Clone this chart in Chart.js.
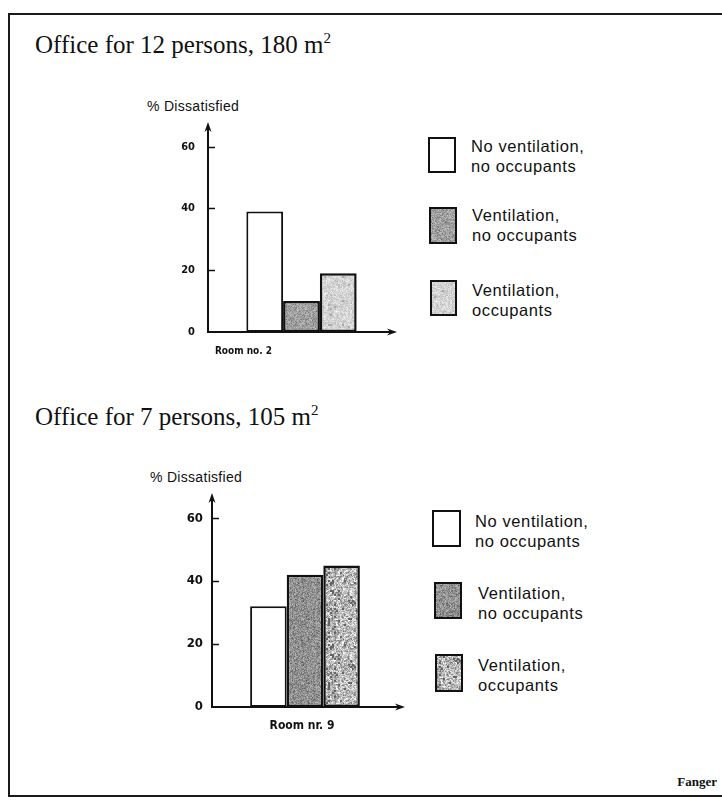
<!DOCTYPE html>
<html><head><meta charset="utf-8">
<script src="https://cdn.jsdelivr.net/npm/chart.js@4/dist/chart.umd.min.js"></script>
<style>
html,body{margin:0;padding:0;background:#fff;}
body{width:722px;height:803px;position:relative;overflow:hidden;color:#111;}
.line{position:absolute;background:#1a1a1a;}
.title{position:absolute;left:35px;font-family:"Liberation Serif","Times New Roman",serif;font-size:25px;line-height:30px;white-space:nowrap;}
.title sup{font-size:15px;line-height:0;vertical-align:10px;}
.ds{position:absolute;font-family:"Liberation Sans",Arial,sans-serif;font-size:14px;line-height:16px;white-space:nowrap;letter-spacing:0.3px;}
.legbox{position:absolute;border:2.5px solid #111;box-sizing:border-box;background:#fff;}
.legtxt{position:absolute;font-family:"Liberation Sans",Arial,sans-serif;font-size:16.5px;line-height:20px;white-space:nowrap;letter-spacing:0.6px;}
.wrap{position:absolute;}
.fanger{position:absolute;right:5px;top:774px;font-family:"Liberation Serif",serif;font-weight:bold;font-size:13px;}
</style>
</head>
<body>
<div class="line" style="left:8px;top:13px;width:714px;height:2px;"></div>
<div class="line" style="left:8px;top:13px;width:2px;height:784px;"></div>
<div class="line" style="left:8px;top:795px;width:714px;height:2px;"></div>

<div class="title" style="top:30px;">Office for 12 persons, 180 m<sup>2</sup></div>
<div class="title" style="top:402px;">Office for 7 persons, 105 m<sup>2</sup></div>

<div class="ds" style="left:147px;top:98px;">% Dissatisfied</div>
<div class="ds" style="left:150px;top:469px;">% Dissatisfied</div>

<div class="wrap" style="left:140px;top:100px;"><canvas id="c1" width="270" height="270"></canvas></div>
<div class="wrap" style="left:140px;top:470px;"><canvas id="c2" width="280" height="275"></canvas></div>

<div id="leg1"></div>
<div id="leg2"></div>

<div class="fanger">Fanger</div>

<script>
// ---- data ----
const categoriesTop = ['Room no. 2'];
const categoriesBottom = ['Room nr. 9'];
const seriesLabels = [
  ['No ventilation,', 'no occupants'],
  ['Ventilation,', 'no occupants'],
  ['Ventilation,', 'occupants']
];
const room2Values = [39, 10, 19];
const room9Values = [32, 42, 45];
const yTickValues = [0, 20, 40, 60];

// ---- textures (styling only) ----
function hsh(x, y, s) {
  let n = (Math.imul(x, 374761393) + Math.imul(y, 668265263) + Math.imul(s, 1442695041)) | 0;
  n = Math.imul(n ^ (n >>> 13), 1274126177);
  n = n ^ (n >>> 16);
  return (n >>> 0) / 4294967295;
}
function texture(base, amp, seed, speck, speckVal, block) {
  const c = document.createElement('canvas');
  c.width = 64; c.height = 64;
  const g = c.getContext('2d');
  const im = g.createImageData(64, 64);
  for (let y = 0; y < 64; y++) for (let x = 0; x < 64; x++) {
    const bx = Math.floor(x / block), by = Math.floor(y / block);
    let v = base + (hsh(x, y, seed) - 0.5) * amp + (hsh(bx, by, seed + 7) - 0.5) * amp * 0.6;
    if (hsh(bx, by, seed + 13) < speck) v = speckVal;
    v = Math.max(0, Math.min(255, v));
    const i = (y * 64 + x) * 4;
    im.data[i] = im.data[i + 1] = im.data[i + 2] = v; im.data[i + 3] = 255;
  }
  g.putImageData(im, 0, 0);
  return c;
}
const tmp = document.createElement('canvas').getContext('2d');
const texTop = [null, texture(160, 55, 3, 0.02, 110, 1), texture(212, 40, 5, 0.02, 170, 2)];
const texBot = [null, texture(145, 60, 9, 0.04, 95, 1), texture(185, 100, 11, 0.10, 100, 2)];

function fills(tex) { return tex.map(t => t ? tmp.createPattern(t, 'repeat') : '#ffffff'); }

// ---- axes plugin ----
const axesPlugin = {
  id: 'axesArrows',
  afterDraw(chart, args, o) {
    const ctx = chart.ctx, ys = chart.scales.y, ca = chart.chartArea;
    const x0 = ca.left, y0 = ys.getPixelForValue(0), yTop = ys.getPixelForValue(ys.max);
    const xEnd = ca.right + o.ext;
    ctx.save();
    ctx.strokeStyle = '#111'; ctx.fillStyle = '#111'; ctx.lineWidth = 2;
    ctx.beginPath();
    ctx.moveTo(x0, y0); ctx.lineTo(x0, yTop + 4);
    ctx.moveTo(x0 - 1, y0); ctx.lineTo(xEnd - 4, y0);
    ctx.stroke();
    ctx.beginPath();
    ctx.moveTo(x0, yTop); ctx.lineTo(x0 - 3.5, yTop + 10); ctx.lineTo(x0, yTop + 7); ctx.lineTo(x0 + 3.5, yTop + 10); ctx.closePath();
    ctx.fill();
    ctx.beginPath();
    ctx.moveTo(xEnd, y0); ctx.lineTo(xEnd - 10, y0 - 3.5); ctx.lineTo(xEnd - 7, y0); ctx.lineTo(xEnd - 10, y0 + 3.5); ctx.closePath();
    ctx.fill();
    ctx.lineWidth = 1.5;
    ctx.beginPath();
    yTickValues.filter(v => v > 0).forEach(v => {
      const y = Math.round(ys.getPixelForValue(v)) + 0.5;
      ctx.moveTo(x0, y); ctx.lineTo(x0 + 7, y);
    });
    ctx.stroke();
    ctx.restore();
  }
};

function makeChart(id, cats, values, tex, cfg) {
  const bg = fills(tex);
  return new Chart(document.getElementById(id), {
    type: 'bar',
    data: {
      labels: cats,
      datasets: seriesLabels.map((lab, i) => ({
        label: lab.join(' '),
        data: [values[i]],
        backgroundColor: bg[i],
        borderColor: '#111',
        borderWidth: i === 0 ? 2 : 2.5,
        borderSkipped: false,
        categoryPercentage: cfg.cat,
        barPercentage: 1
      }))
    },
    options: {
      responsive: false, animation: false, devicePixelRatio: 1,
      layout: { padding: { top: cfg.padTop, right: cfg.padRight, left: 0, bottom: 0 } },
      plugins: { legend: { display: false }, tooltip: { enabled: false }, axesArrows: { ext: cfg.ext } },
      scales: {
        x: {
          grid: { display: false, drawTicks: false }, border: { display: false },
          ticks: { color: '#111', padding: cfg.xPad, labelOffset: cfg.labelOffset,
                   font: { family: '"Liberation Sans Narrow","DejaVu Sans Condensed","Liberation Sans",sans-serif', size: cfg.xFont, weight: 'bold' } },
          afterFit(s) { s.height = cfg.xH; }
        },
        y: {
          min: 0, max: 68,
          afterBuildTicks(s) { s.ticks = yTickValues.map(v => ({ value: v })); },
          grid: { display: false, drawTicks: false }, border: { display: false },
          ticks: { color: '#111', padding: cfg.yPad,
                   font: { family: '"Liberation Sans Narrow","DejaVu Sans Condensed","Liberation Sans",sans-serif', size: cfg.yFont, weight: 'bold' } },
          afterFit(s) { s.width = cfg.yW; }
        }
      }
    },
    plugins: [axesPlugin]
  });
}

makeChart('c1', categoriesTop, room2Values, texTop,
  { cat: 0.59, padTop: 22, padRight: 15, ext: 2, yW: 68, xH: 38, yPad: 13, xPad: 13, labelOffset: -58, xFont: 10, yFont: 11 });
makeChart('c2', categoriesBottom, room9Values, texBot,
  { cat: 0.59, padTop: 23, padRight: 22, ext: 7, yW: 72, xH: 38, yPad: 9, xPad: 12, labelOffset: -3, xFont: 12, yFont: 13 });

// ---- legends (HTML) ----
function legend(el, boxes, texts, tex) {
  const host = document.getElementById(el);
  seriesLabels.forEach((lines, i) => {
    const b = document.createElement('div');
    b.className = 'legbox';
    const [x, y, w, h] = boxes[i];
    b.style.cssText = `left:${x}px;top:${y}px;width:${w}px;height:${h}px;` +
      (tex[i] ? `background-image:url(${tex[i].toDataURL()});` : '') + (i === 0 ? 'border-width:2px;' : '');
    host.appendChild(b);
    const t = document.createElement('div');
    t.className = 'legtxt';
    t.style.left = texts[i][0] + 'px'; t.style.top = texts[i][1] + 'px';
    t.innerHTML = lines.join('<br>');
    host.appendChild(t);
  });
}
legend('leg1', [[428, 137, 28, 36], [429, 207, 28, 37], [430, 280, 27, 36]],
  [[471, 136], [472, 205], [472, 280]], texTop);
legend('leg2', [[432, 510, 29, 37], [434, 582, 28, 37], [435, 654, 28, 38]],
  [[475, 511], [478, 583], [478, 655]], texBot);
</script>
</body></html>
